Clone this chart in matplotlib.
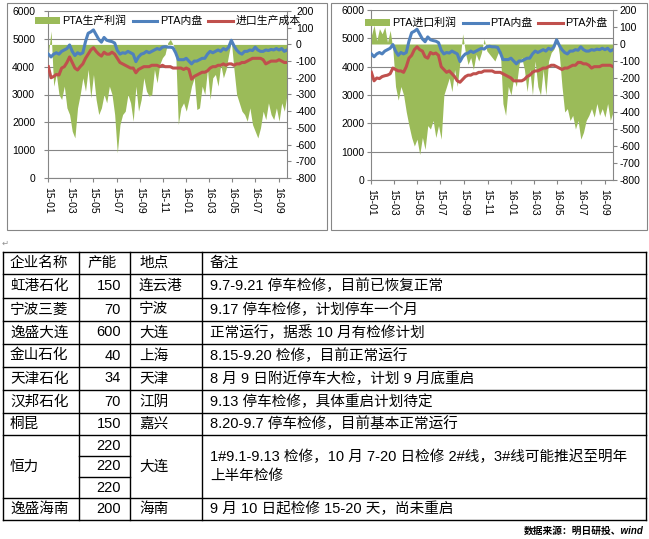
import matplotlib
matplotlib.use('Agg')
import matplotlib.pyplot as plt
import matplotlib.dates as mdates
from matplotlib.patches import Patch, Rectangle
from matplotlib.lines import Line2D
import pandas as pd

plt.rcParams['font.family'] = ['Liberation Sans', 'Noto Sans CJK SC']
plt.rcParams['axes.unicode_minus'] = False

# weekly data, Jan 2015 - Sep 2016
weeks = pd.date_range('2015-01-02', periods=91, freq='7D')

pta_domestic = [4450, 4350, 4450, 4500, 4450, 4550, 4600, 4650, 4780, 4550,
                4400, 4500, 4450, 4500, 4900, 5200, 5250, 5320, 5150, 4980,
                4880, 5050, 4950, 4920, 4900, 4850, 4580, 4450, 4500, 4480,
                4550, 4500, 4450, 4180, 4350, 4450, 4480, 4550, 4500, 4550,
                4600, 4650, 4620, 4700, 4720, 4700, 4700, 4680, 4500, 4250,
                4250, 4250, 4300, 4200, 4100, 4200, 4200, 4250, 4300, 4300,
                4450, 4550, 4500, 4550, 4600, 4550, 4650, 4600, 4700, 4950,
                4750, 4600, 4500, 4450, 4550, 4550, 4600, 4580, 4700, 4600,
                4550, 4550, 4600, 4580, 4620, 4600, 4650, 4600, 4650, 4550,
                4600]

import_cost = [4000, 3600, 3650, 3720, 3700, 3950, 4000, 4150, 4350, 4150,
               3950, 3880, 4000, 4100, 4300, 4450, 4600, 4680, 4550, 4450,
               4380, 4520, 4450, 4450, 4520, 4450, 4300, 4150, 4100, 4050,
               4000, 3950, 3950, 3780, 3900, 3950, 4000, 4000, 4000, 4050,
               4050, 4050, 4000, 4050, 4000, 4000, 4000, 3950, 3950, 3950,
               3950, 3900, 3950, 3900, 3550, 3650, 3700, 3750, 3800, 3800,
               3850, 3950, 4000, 4000, 4050, 4050, 4100, 4050, 4100, 4100,
               4050, 4100, 4100, 4150, 4150, 4200, 4250, 4300, 4300, 4300,
               4300, 4250, 4100, 4150, 4200, 4200, 4200, 4250, 4200, 4150,
               4150]

production_profit = [-60, 80, -250, -180, -300, -330, -250, -380, -420, -520,
                     -560, -380, -300, -200, -280, -150, -320, -180, -330, -420,
                     -380, -300, -350, -250, -300, -420, -650, -480, -420, -400,
                     -300, -350, -460, -250, -400, -330, -200, -280, -310, -300,
                     -150, -230, -120, -80, -60, 10, 30, 0, -40, -480,
                     -380, -350, -400, -330, -250, -200, -390, -380, -250, -300,
                     -150, -330, -200, -180, -250, -120, -200, -150, -60, 20,
                     -150, -300, -350, -400, -420, -460, -380, -480, -520, -560,
                     -500, -400, -450, -350, -420, -450, -380, -460, -350, -400,
                     -300]

pta_foreign = [3800, 3500, 3600, 3580, 3650, 3680, 3700, 3750, 3950, 3900,
               3850, 3850, 3800, 4000, 4300, 4400, 4600, 4700, 4600, 4550,
               4350, 4300, 4500, 4450, 4480, 4400, 4000, 3900, 3800, 3850,
               3750, 3650, 3500, 3450, 3550, 3650, 3700, 3700, 3750, 3750,
               3800, 3800, 3850, 3850, 3850, 3850, 3800, 3800, 3800, 3750,
               3700, 3650, 3600, 3500, 3500, 3500, 3500, 3550, 3650, 3700,
               3800, 3850, 3850, 3900, 3950, 3950, 4000, 4050, 4050, 4000,
               3950, 3900, 3950, 3950, 4000, 4050, 4050, 4150, 4150, 4100,
               4100, 4050, 3950, 4000, 4000, 4000, 4050, 4050, 4050, 4050,
               4000]

import_profit = [50, 110, 20, 90, 60, 100, 10, 80, -30, -250,
                 -330, -250, -300, -400, -480, -550, -600, -560, -650, -550,
                 -620, -480, -500, -450, -550, -480, -560, -300, -250, -200,
                 -280, -150, -250, -100, 60, -50, -120, -80, -150, -60,
                 -100, -50, 30, -40, -60, -80, -100, -60, -30, -350,
                 -420, -250, -300, -200, -250, -120, -80, -150, -280, -150,
                 -300, -100, -250, -300, -150, -300, -100, -50, -30, 40,
                 -60, -250, -400, -380, -450, -420, -500, -450, -560, -520,
                 -450, -420, -380, -430, -350, -420, -380, -430, -350, -450,
                 -400]

# table
header = ['企业名称', '产能', '地点', '备注']
companies = ['虹港石化', '宁波三菱', '逸盛大连', '金山石化', '天津石化',
             '汉邦石化', '桐昆', '恒力', '逸盛海南']
capacity = [[150], [70], [600], [40], [34], [70], [150], [220, 220, 220], [200]]
locations = ['连云港', '宁波', '大连', '上海', '天津', '江阴', '嘉兴', '大连', '海南']
notes = ['9.7-9.21 停车检修，目前已恢复正常',
         '9.17 停车检修，计划停车一个月',
         '正常运行，据悉 10 月有检修计划',
         '8.15-9.20 检修，目前正常运行',
         '8 月 9 日附近停车大检，计划 9 月底重启',
         '9.13 停车检修，具体重启计划待定',
         '8.20-9.7 停车检修，目前基本正常运行',
         '1#9.1-9.13 检修，10 月 7-20 日检修 2#线，3#线可能推迟至明年\n上半年检修',
         '9 月 10 日起检修 15-20 天，尚未重启']
source = '数据来源：明日研投、wind'

GREEN = '#9BBB59'
BLUE = '#4F81BD'
RED = '#C0504D'
GRAY = '#868686'

W, H = 649, 539
fig = plt.figure(figsize=(W / 100, H / 100), dpi=100)

bg = fig.add_axes([0, 0, 1, 1])
bg.set_xlim(0, W)
bg.set_ylim(H, 0)
bg.axis('off')


def px_box(l, t, r, b):
    return [l / W, 1 - b / H, (r - l) / W, (b - t) / H]


def draw_chart(box, frame, red, profit, names, leg_xy, lpad, rpad):
    bg.add_patch(Rectangle((frame[0], frame[1]), frame[2] - frame[0],
                           frame[3] - frame[1], fill=False, ec=GRAY, lw=0.8))
    ax = fig.add_axes(px_box(*box))
    ax2 = ax.twinx()
    ax3 = ax.twinx()

    ax.set_ylim(0, 6000)
    ax.set_yticks(range(0, 6001, 1000))
    ax.grid(axis='y', color=GRAY, lw=0.8)
    ax.set_axisbelow(True)

    ax2.fill_between(weeks, profit, 0, color=GREEN, lw=0)
    ax2.set_ylim(-800, 200)
    ax2.set_yticks(range(-800, 201, 100))

    ax3.plot(weeks, pta_domestic, color=BLUE, lw=2.2)
    ax3.plot(weeks, red, color=RED, lw=2.2)
    ax3.set_ylim(0, 6000)
    ax3.set_yticks([])

    ax.set_xlim(pd.Timestamp('2015-01-01'), pd.Timestamp('2016-09-23'))
    ax.xaxis.set_major_locator(mdates.MonthLocator(bymonth=[1, 3, 5, 7, 9, 11]))
    ax.xaxis.set_major_formatter(mdates.DateFormatter('%y-%m'))

    for a in (ax, ax2, ax3):
        for s in a.spines.values():
            s.set_visible(False)
    ax.spines['left'].set_visible(True)
    ax.spines['bottom'].set_visible(True)
    ax2.spines['right'].set_visible(True)
    for s in (ax.spines['left'], ax.spines['bottom'], ax2.spines['right']):
        s.set_color(GRAY)
        s.set_linewidth(0.8)

    ax.tick_params(axis='y', length=3, color=GRAY, labelsize=7.5, pad=lpad)
    ax.tick_params(axis='x', length=3, color=GRAY, labelsize=7.5, pad=3.5,
                   rotation=-90)
    ax2.tick_params(axis='y', length=3, color=GRAY, labelsize=7.5, pad=rpad)

    handles = [Patch(facecolor=GREEN, edgecolor='none'),
               Line2D([], [], color=BLUE, lw=2.2),
               Line2D([], [], color=RED, lw=2.2)]
    fig.legend(handles, names, loc='center left',
               bbox_to_anchor=(leg_xy[0] / W, 1 - leg_xy[1] / H),
               ncol=3, frameon=False, fontsize=7.8, handlelength=2.3,
               handleheight=0.55, handletextpad=0.2, columnspacing=0.6,
               borderpad=0, borderaxespad=0)


draw_chart((48, 11, 287, 178), (7, 3, 327, 230), import_cost, production_profit,
           ['PTA生产利润', 'PTA内盘', '进口生产成本'], (35, 21), 6.3, 3.5)
draw_chart((371, 10, 613, 180), (331, 3, 647, 230), pta_foreign, import_profit,
           ['PTA进口利润', 'PTA内盘', 'PTA外盘'], (365, 23), 1.5, 1.5)

# table
col_x = [3, 79, 130, 202, 646]
row_y = [252, 274, 298, 321, 344, 367, 390, 413, 435, 498, 520]
FS = 10.5

bg.text(5, 243, '\u21b5', fontsize=6, color='#909090', family=['DejaVu Sans'],
        ha='center', va='center')

for y in row_y:
    bg.plot([col_x[0], col_x[-1]], [y, y], color='black', lw=1.0)
for x in col_x:
    bg.plot([x, x], [row_y[0], row_y[-1]], color='black', lw=1.0)

hy = (row_y[0] + row_y[1]) / 2
bg.text(10, hy, header[0], fontsize=FS, va='center')
bg.text(87, hy, header[1], fontsize=FS, va='center')
bg.text(139, hy, header[2], fontsize=FS, va='center')
bg.text(210, hy, header[3], fontsize=FS, va='center')

for i, name in enumerate(companies):
    y0, y1 = row_y[i + 1], row_y[i + 2]
    yc = (y0 + y1) / 2
    bg.text(10, yc, name, fontsize=FS, va='center')
    bg.text(139, yc, locations[i], fontsize=FS, va='center')
    bg.text(210, yc, notes[i], fontsize=FS, va='center', linespacing=1.45)
    n = len(capacity[i])
    step = (y1 - y0) / n
    for k, c in enumerate(capacity[i]):
        bg.text(121, y0 + step * (k + 0.5), str(c), fontsize=FS,
                ha='right', va='center')
        if k > 0:
            bg.plot([col_x[1], col_x[2]], [y0 + step * k] * 2,
                    color='black', lw=1.0)

bg.text(644, 531, source, fontsize=7, weight='bold', style='italic',
        ha='right', va='center')

fig.savefig('out.png', dpi=100)
